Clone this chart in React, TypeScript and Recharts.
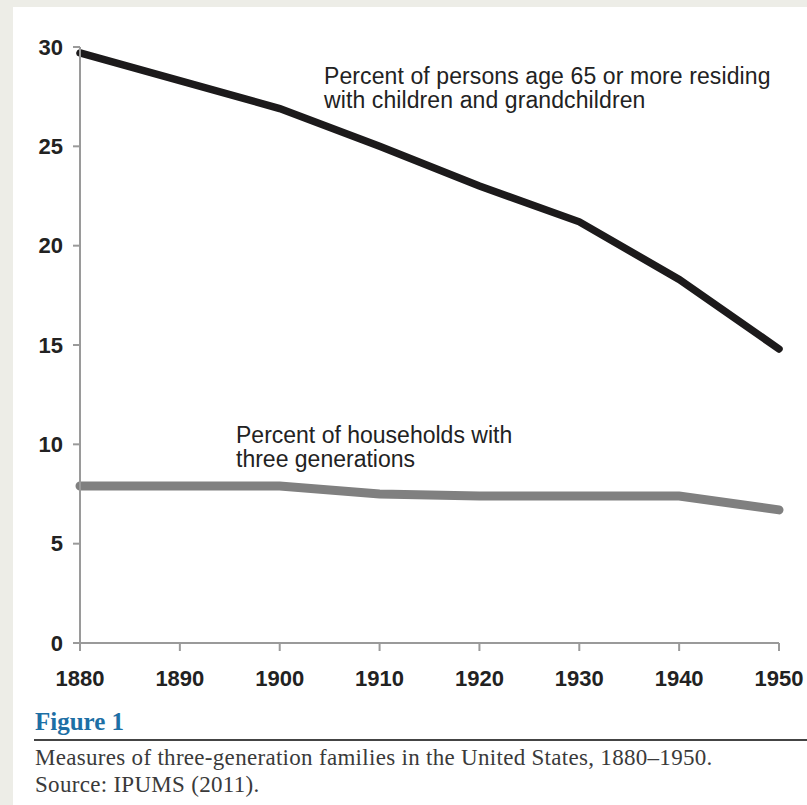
import * as React from "react"
import { LineChart, Line, XAxis, YAxis } from "recharts"

// years with data (1890 census is missing, so no point there)
const years = [1880, 1900, 1910, 1920, 1930, 1940, 1950]
const elderlyWithKids = [29.7, 26.9, 25.0, 23.0, 21.2, 18.3, 14.8]
const threeGenHouseholds = [7.9, 7.9, 7.5, 7.4, 7.4, 7.4, 6.7]

const xTicks = [1880, 1890, 1900, 1910, 1920, 1930, 1940, 1950]
const yTicks = [0, 5, 10, 15, 20, 25, 30]

const data = years.map((year, i) => ({
  year,
  elderly: elderlyWithKids[i],
  households: threeGenHouseholds[i],
}))

const sans = "Arial, 'Liberation Sans', sans-serif"
const serif = "'Times New Roman', 'Liberation Serif', serif"

const tickStyle = { fill: "#222", fontSize: 22, fontWeight: 700, fontFamily: sans }
const axisStroke = { stroke: "#9a9a9a", strokeWidth: 2 }

const noteStyle: React.CSSProperties = {
  position: "absolute",
  fontFamily: sans,
  fontSize: 23,
  lineHeight: "24px",
  color: "#222",
  whiteSpace: "nowrap",
}

export default function App() {
  return (
    <div
      style={{
        position: "absolute",
        left: 0,
        top: 0,
        width: 807,
        height: 805,
        background: "#ededE7",
        overflow: "hidden",
      }}
    >
      <div
        style={{
          position: "absolute",
          left: 13,
          top: 7,
          width: 794,
          height: 798,
          background: "#fff",
        }}
      />
      <div style={{ position: "absolute", left: 0, top: 0 }}>
        <LineChart
          width={807}
          height={700}
          data={data}
          margin={{ top: 47, right: 28, left: 20, bottom: 17 }}
        >
          <XAxis
            dataKey="year"
            type="number"
            domain={[1880, 1950]}
            ticks={xTicks}
            tick={tickStyle}
            tickSize={8}
            tickMargin={19}
            axisLine={axisStroke}
            tickLine={axisStroke}
            height={40}
          />
          <YAxis
            type="number"
            domain={[0, 30]}
            ticks={yTicks}
            tick={tickStyle}
            tickSize={7}
            tickMargin={10}
            axisLine={axisStroke}
            tickLine={axisStroke}
            width={60}
          />
          <Line
            type="linear"
            dataKey="households"
            stroke="#808080"
            strokeWidth={9}
            strokeLinecap="round"
            dot={false}
            activeDot={false}
            isAnimationActive={false}
          />
          <Line
            type="linear"
            dataKey="elderly"
            stroke="#1c1a1b"
            strokeWidth={7.5}
            strokeLinecap="round"
            dot={false}
            activeDot={false}
            isAnimationActive={false}
          />
        </LineChart>
      </div>

      <div style={{ ...noteStyle, left: 324, top: 64, letterSpacing: 0.1 }}>
        Percent of persons age 65 or more residing
        <br />
        with children and grandchildren
      </div>
      <div style={{ ...noteStyle, left: 236, top: 423 }}>
        Percent of households with
        <br />
        three generations
      </div>

      <div
        style={{
          position: "absolute",
          left: 35,
          top: 709,
          fontFamily: serif,
          fontWeight: 700,
          fontSize: 25,
          lineHeight: "25px",
          color: "#1d6fa5",
        }}
      >
        Figure 1
      </div>
      <div
        style={{
          position: "absolute",
          left: 34,
          top: 739,
          width: 773,
          height: 2,
          background: "#444",
        }}
      />
      <div
        style={{
          position: "absolute",
          left: 35,
          top: 744,
          fontFamily: serif,
          fontSize: 23,
          letterSpacing: 0.3,
          lineHeight: "27px",
          color: "#3a3a3a",
          whiteSpace: "nowrap",
        }}
      >
        Measures of three-generation families in the United States, 1880–1950.
        <br />
        Source: IPUMS (2011).
      </div>
    </div>
  )
}
